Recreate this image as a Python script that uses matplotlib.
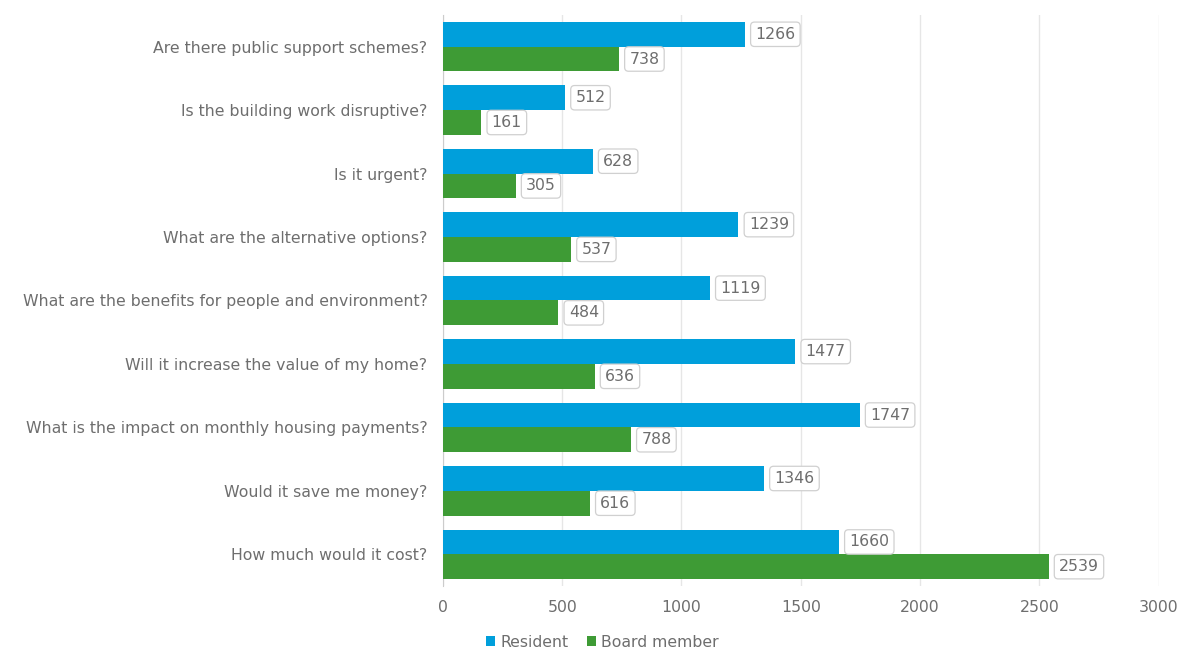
import numpy as np
import matplotlib.pyplot as plt

plt.rcParams["font.family"] = ["DejaVu Sans"]

# questions, top to bottom
questions = [
    "Are there public support schemes?",
    "Is the building work disruptive?",
    "Is it urgent?",
    "What are the alternative options?",
    "What are the benefits for people and environment?",
    "Will it increase the value of my home?",
    "What is the impact on monthly housing payments?",
    "Would it save me money?",
    "How much would it cost?",
]
resident = [1266, 512, 628, 1239, 1119, 1477, 1747, 1346, 1660]
board_member = [738, 161, 305, 537, 484, 636, 788, 616, 2539]

colors = {"Resident": "#009fdb", "Board member": "#3e9b35"}
text_gray = "#6e6e6e"

fig = plt.figure(figsize=(11.81, 6.49), dpi=100)
ax = fig.add_axes([0.375, 0.097, 0.606, 0.880])

y = np.arange(len(questions))
h = 0.39

ax.barh(y - h / 2, resident, h, color=colors["Resident"], label="Resident", zorder=3)
ax.barh(y + h / 2, board_member, h, color=colors["Board member"], label="Board member", zorder=3)

box = dict(boxstyle="round,pad=0.3,rounding_size=0.25", fc="white", ec="#d0d0d0", lw=0.9)
for i in range(len(questions)):
    ax.annotate(str(resident[i]), (resident[i], y[i] - h / 2), xytext=(7.5, 0),
                textcoords="offset points", va="center", ha="left",
                fontsize=11.3, color=text_gray, bbox=box, zorder=4)
    ax.annotate(str(board_member[i]), (board_member[i], y[i] + h / 2), xytext=(7.5, 0),
                textcoords="offset points", va="center", ha="left",
                fontsize=11.3, color=text_gray, bbox=box, zorder=4)

ax.set_ylim(len(questions) - 0.5, -0.5)
ax.set_xlim(0, 3000)
ax.set_xticks(np.arange(0, 3001, 500))
ax.set_yticks(y)
ax.set_yticklabels(questions)

ax.grid(axis="x", color="#e6e6e6", lw=1, zorder=0)
for s in ["top", "right", "bottom"]:
    ax.spines[s].set_visible(False)
ax.spines["left"].set_color("#cccccc")

ax.tick_params(axis="y", length=0, pad=11, labelsize=11.3, labelcolor=text_gray)
ax.tick_params(axis="x", length=0, pad=10, labelsize=11.3, labelcolor=text_gray)

fig.legend(loc="center", bbox_to_anchor=(0.51, 0.01), ncol=2, frameon=False,
           fontsize=11.3, labelcolor=text_gray, handlelength=0.6, handleheight=0.6,
           handletextpad=0.3, columnspacing=1.2)

fig.savefig("out.png", dpi=100)
